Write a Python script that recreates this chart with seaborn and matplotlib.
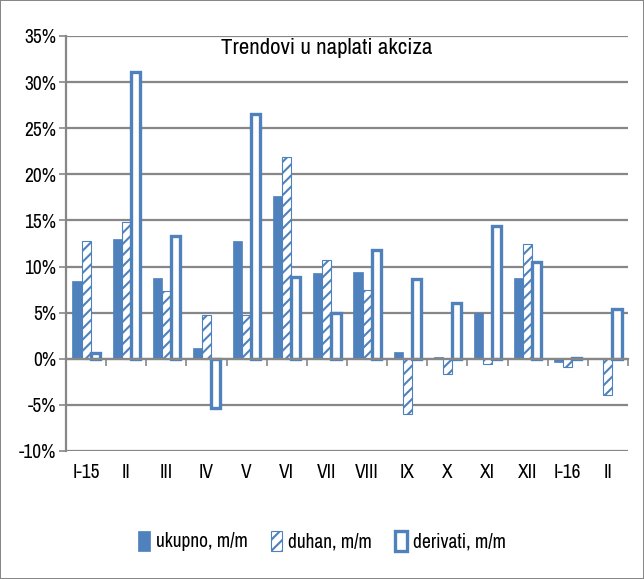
import numpy as np
import pandas as pd
import matplotlib
matplotlib.use("Agg")
import matplotlib.pyplot as plt
from matplotlib import font_manager
import seaborn as sns

# ==============================
# DATA (percent, m/m)
# ==============================
mjeseci = ["I-15", "II", "III", "IV", "V", "VI", "VII", "VIII", "IX", "X", "XI", "XII", "I-16", "II"]
ukupno = [8.4, 13.0, 8.8, 1.2, 12.8, 17.7, 9.3, 9.4, 0.7, 0.2, 5.0, 8.8, -0.4, 0.0]
duhan = [12.8, 14.8, 7.3, 4.7, 4.8, 21.9, 10.7, 7.5, -6.0, -1.7, -0.6, 12.4, -0.9, -3.9]
derivati = [0.6, 31.1, 13.3, -5.3, 26.5, 8.9, 5.0, 11.8, 8.7, 6.0, 14.4, 10.5, 0.1, 5.4]
serije = ["ukupno, m/m", "duhan, m/m", "derivati, m/m"]
y_ticks = [-10, -5, 0, 5, 10, 15, 20, 25, 30, 35]

# ==============================
# STYLE
# ==============================
sns.set_style("white")
names = sorted({f.name for f in font_manager.fontManager.ttflist})
narrow = [n for n in names if "Narrow" in n or "Condensed" in n]
fam = narrow[0] if narrow else "Liberation Sans"
plt.rcParams["font.family"] = [fam, "DejaVu Sans"]
plt.rcParams["hatch.linewidth"] = 1.5
plt.rcParams["text.color"] = "black"
plt.rcParams["xtick.color"] = "black"
plt.rcParams["ytick.color"] = "black"

plava = "#4F81BD"
siva = "#878787"

# unique keys so the two "II" months stay separate
keys = [f"{i}_{m}" for i, m in enumerate(mjeseci)]
df = pd.DataFrame({
    "mjesec": keys * 3,
    "serija": np.repeat(serije, len(keys)),
    "vrijednost": ukupno + duhan + derivati,
})

# ==============================
# PLOT
# ==============================
fig = plt.figure(figsize=(6.44, 5.79), dpi=100)
fig.patch.set_edgecolor(siva)
fig.patch.set_linewidth(1.2)
ax = fig.add_axes([66 / 644, 1 - 451 / 579, (628 - 66) / 644, (451 - 36) / 579])

sns.barplot(data=df, x="mjesec", y="vrijednost", hue="serija", order=keys,
            hue_order=serije, palette=[plava] * 3, width=0.68, ax=ax,
            saturation=1, legend=False)

# per-series styling
for cont, s in zip(ax.containers, serije):
    for p in cont.patches:
        if s == "ukupno, m/m":
            p.set_facecolor(plava)
            p.set_edgecolor(plava)
            p.set_linewidth(0.5)
        elif s == "duhan, m/m":
            p.set_facecolor("white")
            p.set_edgecolor(plava)
            p.set_hatch("///")
            p.set_linewidth(0.8)
        else:
            p.set_facecolor("white")
            p.set_edgecolor(plava)
            p.set_linewidth(2.4)

ax.set_ylim(-10, 35)
ax.set_xlim(-0.5, len(keys) - 0.5)
ax.set_yticks(y_ticks)
ax.set_yticklabels([f"{v}%" for v in y_ticks], fontsize=14)
ax.yaxis.grid(True, color=siva, linewidth=1.6)
ax.set_axisbelow(True)
ax.set_xlabel("")
ax.set_ylabel("")
ax.tick_params(axis="y", length=5, color=siva, width=1.2, direction="out", left=True, pad=2)

for sp in ["top", "right"]:
    ax.spines[sp].set_visible(False)
ax.spines["left"].set_color(siva)
ax.spines["left"].set_linewidth(1.6)
ax.spines["bottom"].set_position(("data", 0))
ax.spines["bottom"].set_color(siva)
ax.spines["bottom"].set_linewidth(1.6)

# category boundary ticks on the zero line
ax.set_xticks(np.arange(len(keys)))
ax.set_xticklabels([])
ax.tick_params(axis="x", which="major", length=0)
ax.set_xticks(np.arange(len(keys) + 1) - 0.5, minor=True)
ax.tick_params(axis="x", which="minor", length=5, color=siva, width=1.2, direction="out", bottom=True)

# month labels at the bottom of the plot
sec = ax.secondary_xaxis(0)
sec.set_xticks(np.arange(len(keys)))
sec.set_xticklabels(mjeseci, fontsize=14)
sec.tick_params(length=0, pad=9)
sec.spines["bottom"].set_visible(False)

ax.text(0.463, 0.972, "Trendovi u naplati akciza", transform=ax.transAxes,
        ha="center", va="center", fontsize=16.5)

fig.legend(handles=list(ax.containers), labels=serije, loc="center",
           bbox_to_anchor=(0.5, 1 - 541 / 579), ncol=3, frameon=False,
           fontsize=14, handlelength=0.6, handleheight=1.2, handletextpad=0.3,
           columnspacing=1.2)

fig.savefig("out.png", dpi=100, edgecolor=fig.get_edgecolor())
